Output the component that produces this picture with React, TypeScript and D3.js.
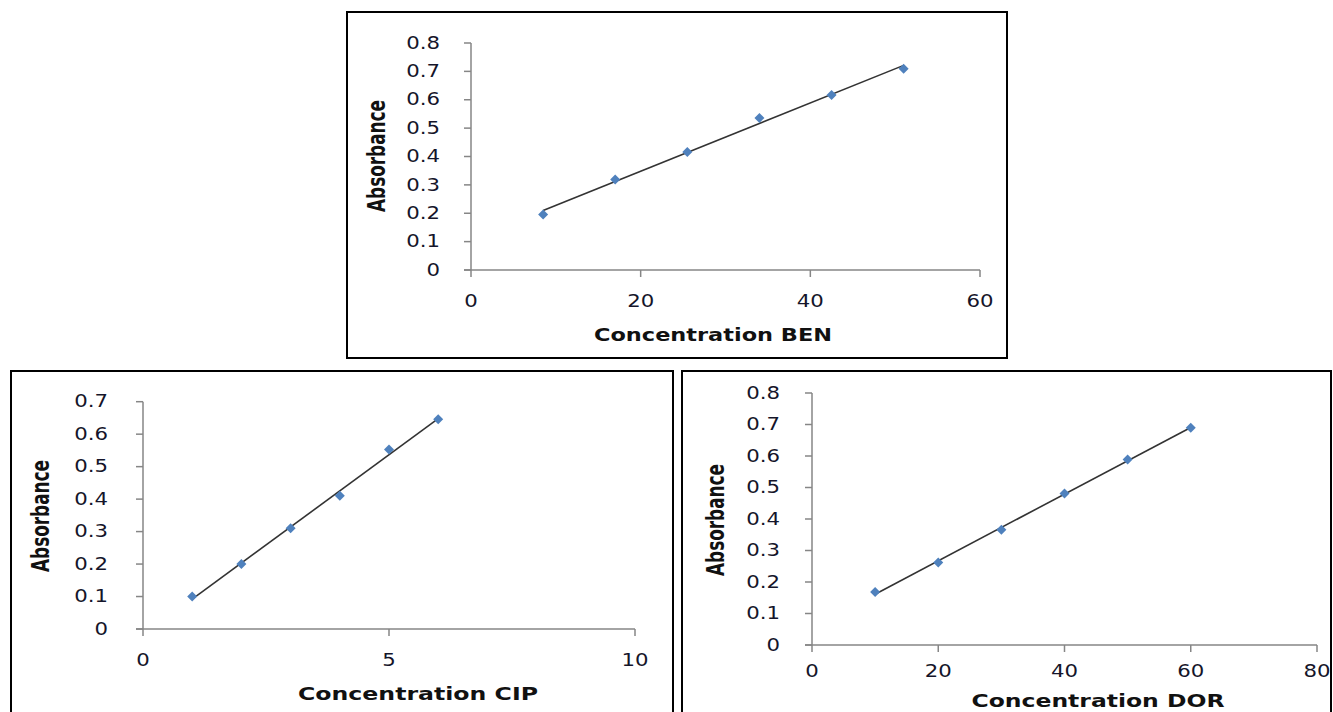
import React from "react";
import * as d3 from "d3";

// ---- data ----
const benConc = [8.5, 17, 25.5, 34, 42.5, 51];
const benAbs = [0.196, 0.319, 0.416, 0.536, 0.617, 0.709];
const cipConc = [1, 2, 3, 4, 5, 6];
const cipAbs = [0.1, 0.2, 0.31, 0.41, 0.553, 0.646];
const dorConc = [10, 20, 30, 40, 50, 60];
const dorAbs = [0.168, 0.262, 0.366, 0.481, 0.589, 0.69];

const benXTicks = [0, 20, 40, 60];
const cipXTicks = [0, 5, 10];
const dorXTicks = [0, 20, 40, 60, 80];
const absTicks8 = [0, 0.1, 0.2, 0.3, 0.4, 0.5, 0.6, 0.7, 0.8];
const absTicks7 = [0, 0.1, 0.2, 0.3, 0.4, 0.5, 0.6, 0.7];

const yTitle = "Absorbance";
const benTitle = "Concentration BEN";
const cipTitle = "Concentration CIP";
const dorTitle = "Concentration DOR";

const AXIS = "#868686";
const MARK = "#4F81BD";
const TXT = "#15152a";
const TICK_FONT = "'DejaVu Sans', Verdana, sans-serif";
const TITLE_FONT = "'DejaVu Sans', Verdana, sans-serif";

type ChartProps = {
  box: [number, number, number, number];
  plot: { x0: number; x1: number; y0: number; y1: number };
  xDomain: [number, number];
  yDomain: [number, number];
  xTicks: number[];
  yTicks: number[];
  xs: number[];
  ys: number[];
  xTitle: string;
  xTitlePos: [number, number, number];
  yTitlePos: [number, number];
  xLabelY: number;
  yLabelRight: number;
  noBottom?: boolean;
};

function regression(xs: number[], ys: number[]) {
  const mx = d3.mean(xs)!;
  const my = d3.mean(ys)!;
  let sxy = 0,
    sxx = 0;
  xs.forEach((x, i) => {
    sxy += (x - mx) * (ys[i] - my);
    sxx += (x - mx) * (x - mx);
  });
  const b = sxy / sxx;
  return { b, a: my - b * mx };
}

function fmt(v: number) {
  return v === 0 ? "0" : d3.format(".1f")(v);
}

function Chart(p: ChartProps) {
  const x = d3.scaleLinear().domain(p.xDomain).range([p.plot.x0, p.plot.x1]);
  const y = d3.scaleLinear().domain(p.yDomain).range([p.plot.y0, p.plot.y1]);
  const tick = 7;
  const { a, b } = regression(p.xs, p.ys);
  const xmin = d3.min(p.xs)!;
  const xmax = d3.max(p.xs)!;
  const line = d3.line<number>().x((d) => x(d)).y((d) => y(a + b * d));
  const [bx, by, bw, bh] = p.box;
  const sx = 1.25;
  const fs = 17;
  return (
    <g>
      {p.noBottom ? (
        <path
          d={`M${bx},${by + bh} V${by} H${bx + bw} V${by + bh}`}
          fill="none"
          stroke="#000"
          strokeWidth={2}
        />
      ) : (
        <rect x={bx} y={by} width={bw} height={bh} fill="none" stroke="#000" strokeWidth={2} />
      )}
      <line x1={x(p.xDomain[0])} x2={x(p.xDomain[0])} y1={y(p.yDomain[0])} y2={y(p.yDomain[1])} stroke={AXIS} strokeWidth={1.5} />
      <line x1={x(p.xDomain[0]) - tick} x2={x(p.xDomain[1])} y1={y(p.yDomain[0])} y2={y(p.yDomain[0])} stroke={AXIS} strokeWidth={1.5} />
      {p.yTicks.map((t) => (
        <g key={"y" + t}>
          <line x1={x(p.xDomain[0]) - tick} x2={x(p.xDomain[0])} y1={y(t)} y2={y(t)} stroke={AXIS} strokeWidth={1.5} />
          <text
            transform={`translate(${p.yLabelRight},${y(t)}) scale(${sx},1)`}
            textAnchor="end"
            dominantBaseline="central"
            fontFamily={TICK_FONT}
            fontSize={fs}
            fill={TXT}
          >
            {fmt(t)}
          </text>
        </g>
      ))}
      {p.xTicks.map((t) => (
        <g key={"x" + t}>
          <line x1={x(t)} x2={x(t)} y1={y(p.yDomain[0])} y2={y(p.yDomain[0]) + tick} stroke={AXIS} strokeWidth={1.5} />
          <text
            transform={`translate(${x(t)},${p.xLabelY}) scale(${sx},1)`}
            textAnchor="middle"
            dominantBaseline="central"
            fontFamily={TICK_FONT}
            fontSize={fs}
            fill={TXT}
          >
            {String(t)}
          </text>
        </g>
      ))}
      <path d={line([xmin, xmax]) || ""} fill="none" stroke="#333" strokeWidth={1.6} />
      {p.xs.map((v, i) => {
        const cx = x(v);
        const cy = y(p.ys[i]);
        return (
          <path
            key={"m" + i}
            d={`M${cx},${cy - 5} L${cx + 5},${cy} L${cx},${cy + 5} L${cx - 5},${cy} Z`}
            fill={MARK}
          />
        );
      })}
      <text
        x={p.xTitlePos[0]}
        y={p.xTitlePos[1]}
        textAnchor="middle"
        fontFamily={TITLE_FONT}
        fontWeight="bold"
        fontSize={18}
        fill="#111"
        textLength={p.xTitlePos[2]}
        lengthAdjust="spacingAndGlyphs"
      >
        {p.xTitle}
      </text>
      <text
        transform={`translate(${p.yTitlePos[0]},${p.yTitlePos[1]}) scale(1.45,1) rotate(-90)`}
        textAnchor="middle"
        dominantBaseline="central"
        fontFamily={TITLE_FONT}
        fontWeight="bold"
        fontSize={17}
        fill="#111"
        textLength={112}
        lengthAdjust="spacingAndGlyphs"
      >
        {yTitle}
      </text>
    </g>
  );
}

export default function App() {
  return (
    <svg
      width={1333}
      height={712}
      style={{ position: "absolute", left: 0, top: 0, background: "#fff" }}
    >
      <rect x={0} y={0} width={1333} height={712} fill="#fff" />
      <Chart
        box={[347, 12, 660, 346]}
        plot={{ x0: 471, x1: 980, y0: 270, y1: 43 }}
        xDomain={[0, 60]}
        yDomain={[0, 0.8]}
        xTicks={benXTicks}
        yTicks={absTicks8}
        xs={benConc}
        ys={benAbs}
        xTitle={benTitle}
        xTitlePos={[713, 341, 238]}
        yTitlePos={[376, 156]}
        xLabelY={301}
        yLabelRight={440}
      />
      <Chart
        box={[11, 371, 662, 360]}
        plot={{ x0: 143, x1: 635, y0: 629, y1: 401.7 }}
        xDomain={[0, 10]}
        yDomain={[0, 0.7]}
        xTicks={cipXTicks}
        yTicks={absTicks7}
        xs={cipConc}
        ys={cipAbs}
        xTitle={cipTitle}
        xTitlePos={[418, 700, 240]}
        yTitlePos={[40, 516]}
        xLabelY={660}
        yLabelRight={108}
        noBottom
      />
      <Chart
        box={[682, 371, 649, 360]}
        plot={{ x0: 812, x1: 1317, y0: 645, y1: 393 }}
        xDomain={[0, 80]}
        yDomain={[0, 0.8]}
        xTicks={dorXTicks}
        yTicks={absTicks8}
        xs={dorConc}
        ys={dorAbs}
        xTitle={dorTitle}
        xTitlePos={[1098, 707, 253]}
        yTitlePos={[715, 520]}
        xLabelY={671}
        yLabelRight={780}
        noBottom
      />
    </svg>
  );
}
